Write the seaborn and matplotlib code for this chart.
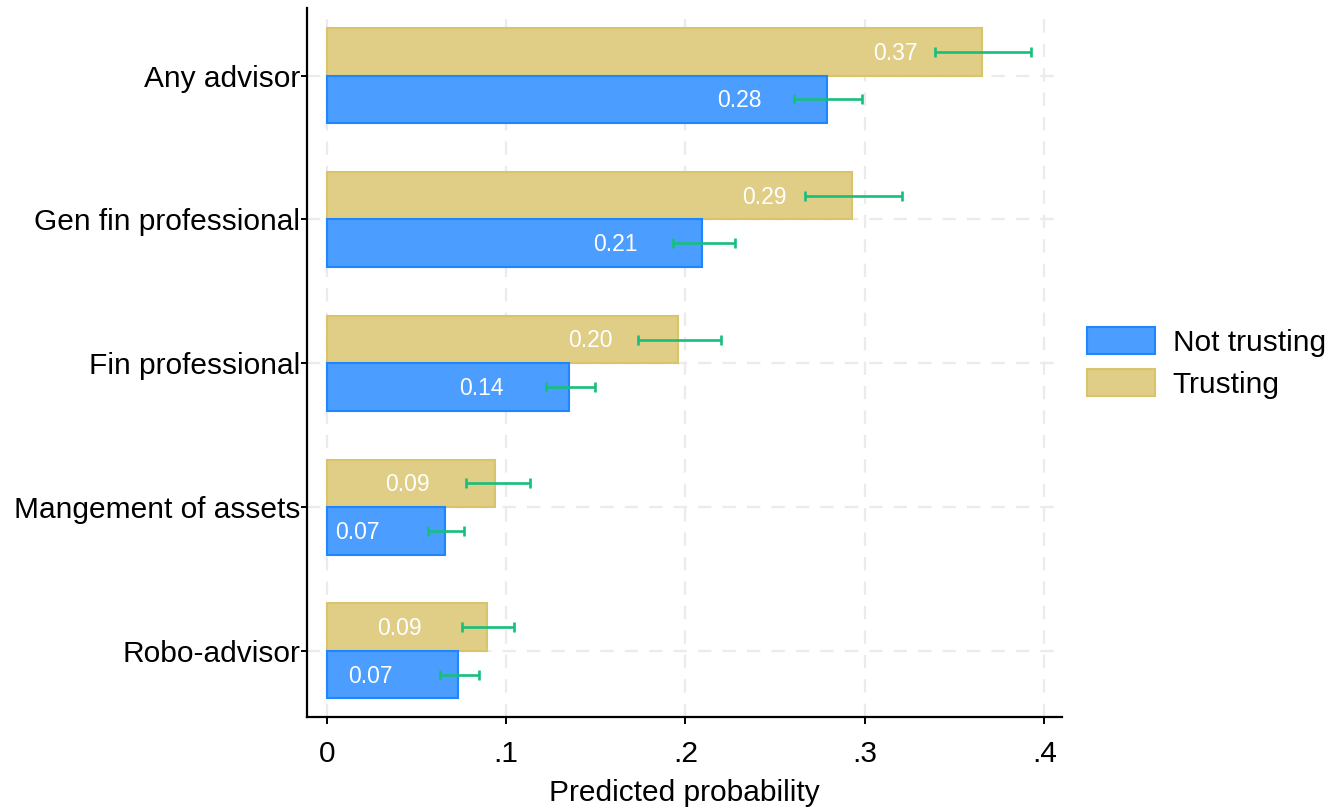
import numpy as np
import pandas as pd
import matplotlib
matplotlib.use("Agg")
import matplotlib.pyplot as plt
from matplotlib.patches import Patch
import seaborn as sns

# Predicted probability of using each type of advice, by trust group
categories = ["Any advisor", "Gen fin professional", "Fin professional",
              "Mangement of assets", "Robo-advisor"]
groups = ["Trusting", "Not trusting"]

trusting = [0.3655, 0.2928, 0.1957, 0.0940, 0.0892]
trusting_lo = [0.339, 0.2665, 0.1736, 0.0779, 0.0754]
trusting_hi = [0.3925, 0.3209, 0.2200, 0.1135, 0.1046]

not_trusting = [0.2790, 0.2095, 0.1351, 0.0659, 0.0732]
not_trusting_lo = [0.2606, 0.1930, 0.1224, 0.0565, 0.0632]
not_trusting_hi = [0.2987, 0.2279, 0.1495, 0.0767, 0.0849]

xticks = [0, 0.1, 0.2, 0.3, 0.4]
xticklabels = ["0", ".1", ".2", ".3", ".4"]

fill = {"Trusting": "#E0CE86", "Not trusting": "#4B9DFF"}
edge = {"Trusting": "#D9C46C", "Not trusting": "#1F86FF"}
ci_color = "#17BF7C"

df = pd.DataFrame({
    "category": categories * 2,
    "group": ["Trusting"] * len(categories) + ["Not trusting"] * len(categories),
    "prob": trusting + not_trusting,
    "lo": trusting_lo + not_trusting_lo,
    "hi": trusting_hi + not_trusting_hi,
})

sns.set_theme(style="white")
plt.rcParams["font.family"] = ["Liberation Sans", "DejaVu Sans"]
plt.rcParams["text.color"] = "black"
plt.rcParams["axes.labelcolor"] = "black"
plt.rcParams["xtick.color"] = "black"
plt.rcParams["ytick.color"] = "black"

fig = plt.figure(figsize=(13.31, 8.09), dpi=100)
ax = fig.add_axes([0.2309, 0.1137, 0.798 - 0.2309, 0.990 - 0.1137])

# dashed background grid
for x in xticks:
    ax.axvline(x, color="#EBEBEB", lw=1.6, ls=(0, (6, 5)), zorder=0)
for i in range(len(categories)):
    ax.axhline(i, color="#EBEBEB", lw=1.6, ls=(0, (6, 5)), zorder=0)

sns.barplot(data=df, y="category", x="prob", hue="group",
            order=categories, hue_order=groups, orient="h",
            width=0.66, palette=fill, ax=ax, legend=False,
            errorbar=None, saturation=1, zorder=2)

# recolour edges and add CIs and value labels
label_offset = 0.0363
for container, g in zip(ax.containers, groups):
    sub = df[df["group"] == g].set_index("category").loc[categories]
    for bar, (_, row) in zip(container.patches, sub.iterrows()):
        bar.set_edgecolor(edge[g])
        bar.set_linewidth(1.5)
        yc = bar.get_y() + bar.get_height() / 2
        ax.errorbar(row["prob"], yc,
                    xerr=[[row["prob"] - row["lo"]], [row["hi"] - row["prob"]]],
                    fmt="none", ecolor=ci_color, elinewidth=1.9,
                    capsize=3.9, capthick=1.9, zorder=4)
        ax.text(row["prob"] - label_offset, yc + 0.01, f"{row['prob']:.2f}",
                ha="right", va="center", color="white", fontsize=16.5,
                zorder=5)

ax.set_xlim(-0.0108, 0.410)
ax.set_ylim(4.46, -0.47)
ax.set_xticks(xticks)
ax.set_xticklabels(xticklabels)
ax.tick_params(axis="x", length=5, width=1.4, labelsize=21.5,
               pad=11.5, bottom=True)
ax.tick_params(axis="y", length=4, width=1.4, labelsize=21.5,
               pad=1.2, left=True)
ax.set_ylabel("")
ax.set_xlabel("Predicted probability", fontsize=21.5, labelpad=8)

for side in ["top", "right"]:
    ax.spines[side].set_visible(False)
for side in ["left", "bottom"]:
    ax.spines[side].set_color("black")
    ax.spines[side].set_linewidth(1.6)

handles = [Patch(facecolor=fill[g], edgecolor=edge[g], linewidth=1.5)
           for g in ["Not trusting", "Trusting"]]
fig.legend(handles, ["Not trusting", "Trusting"], loc="center left",
           bbox_to_anchor=(0.8167, 0.5513), frameon=False, fontsize=21.5,
           handlelength=2.27, handleheight=1.0, labelspacing=0.4,
           handletextpad=0.6, borderpad=0, borderaxespad=0)

fig.savefig("out.png", dpi=100)
